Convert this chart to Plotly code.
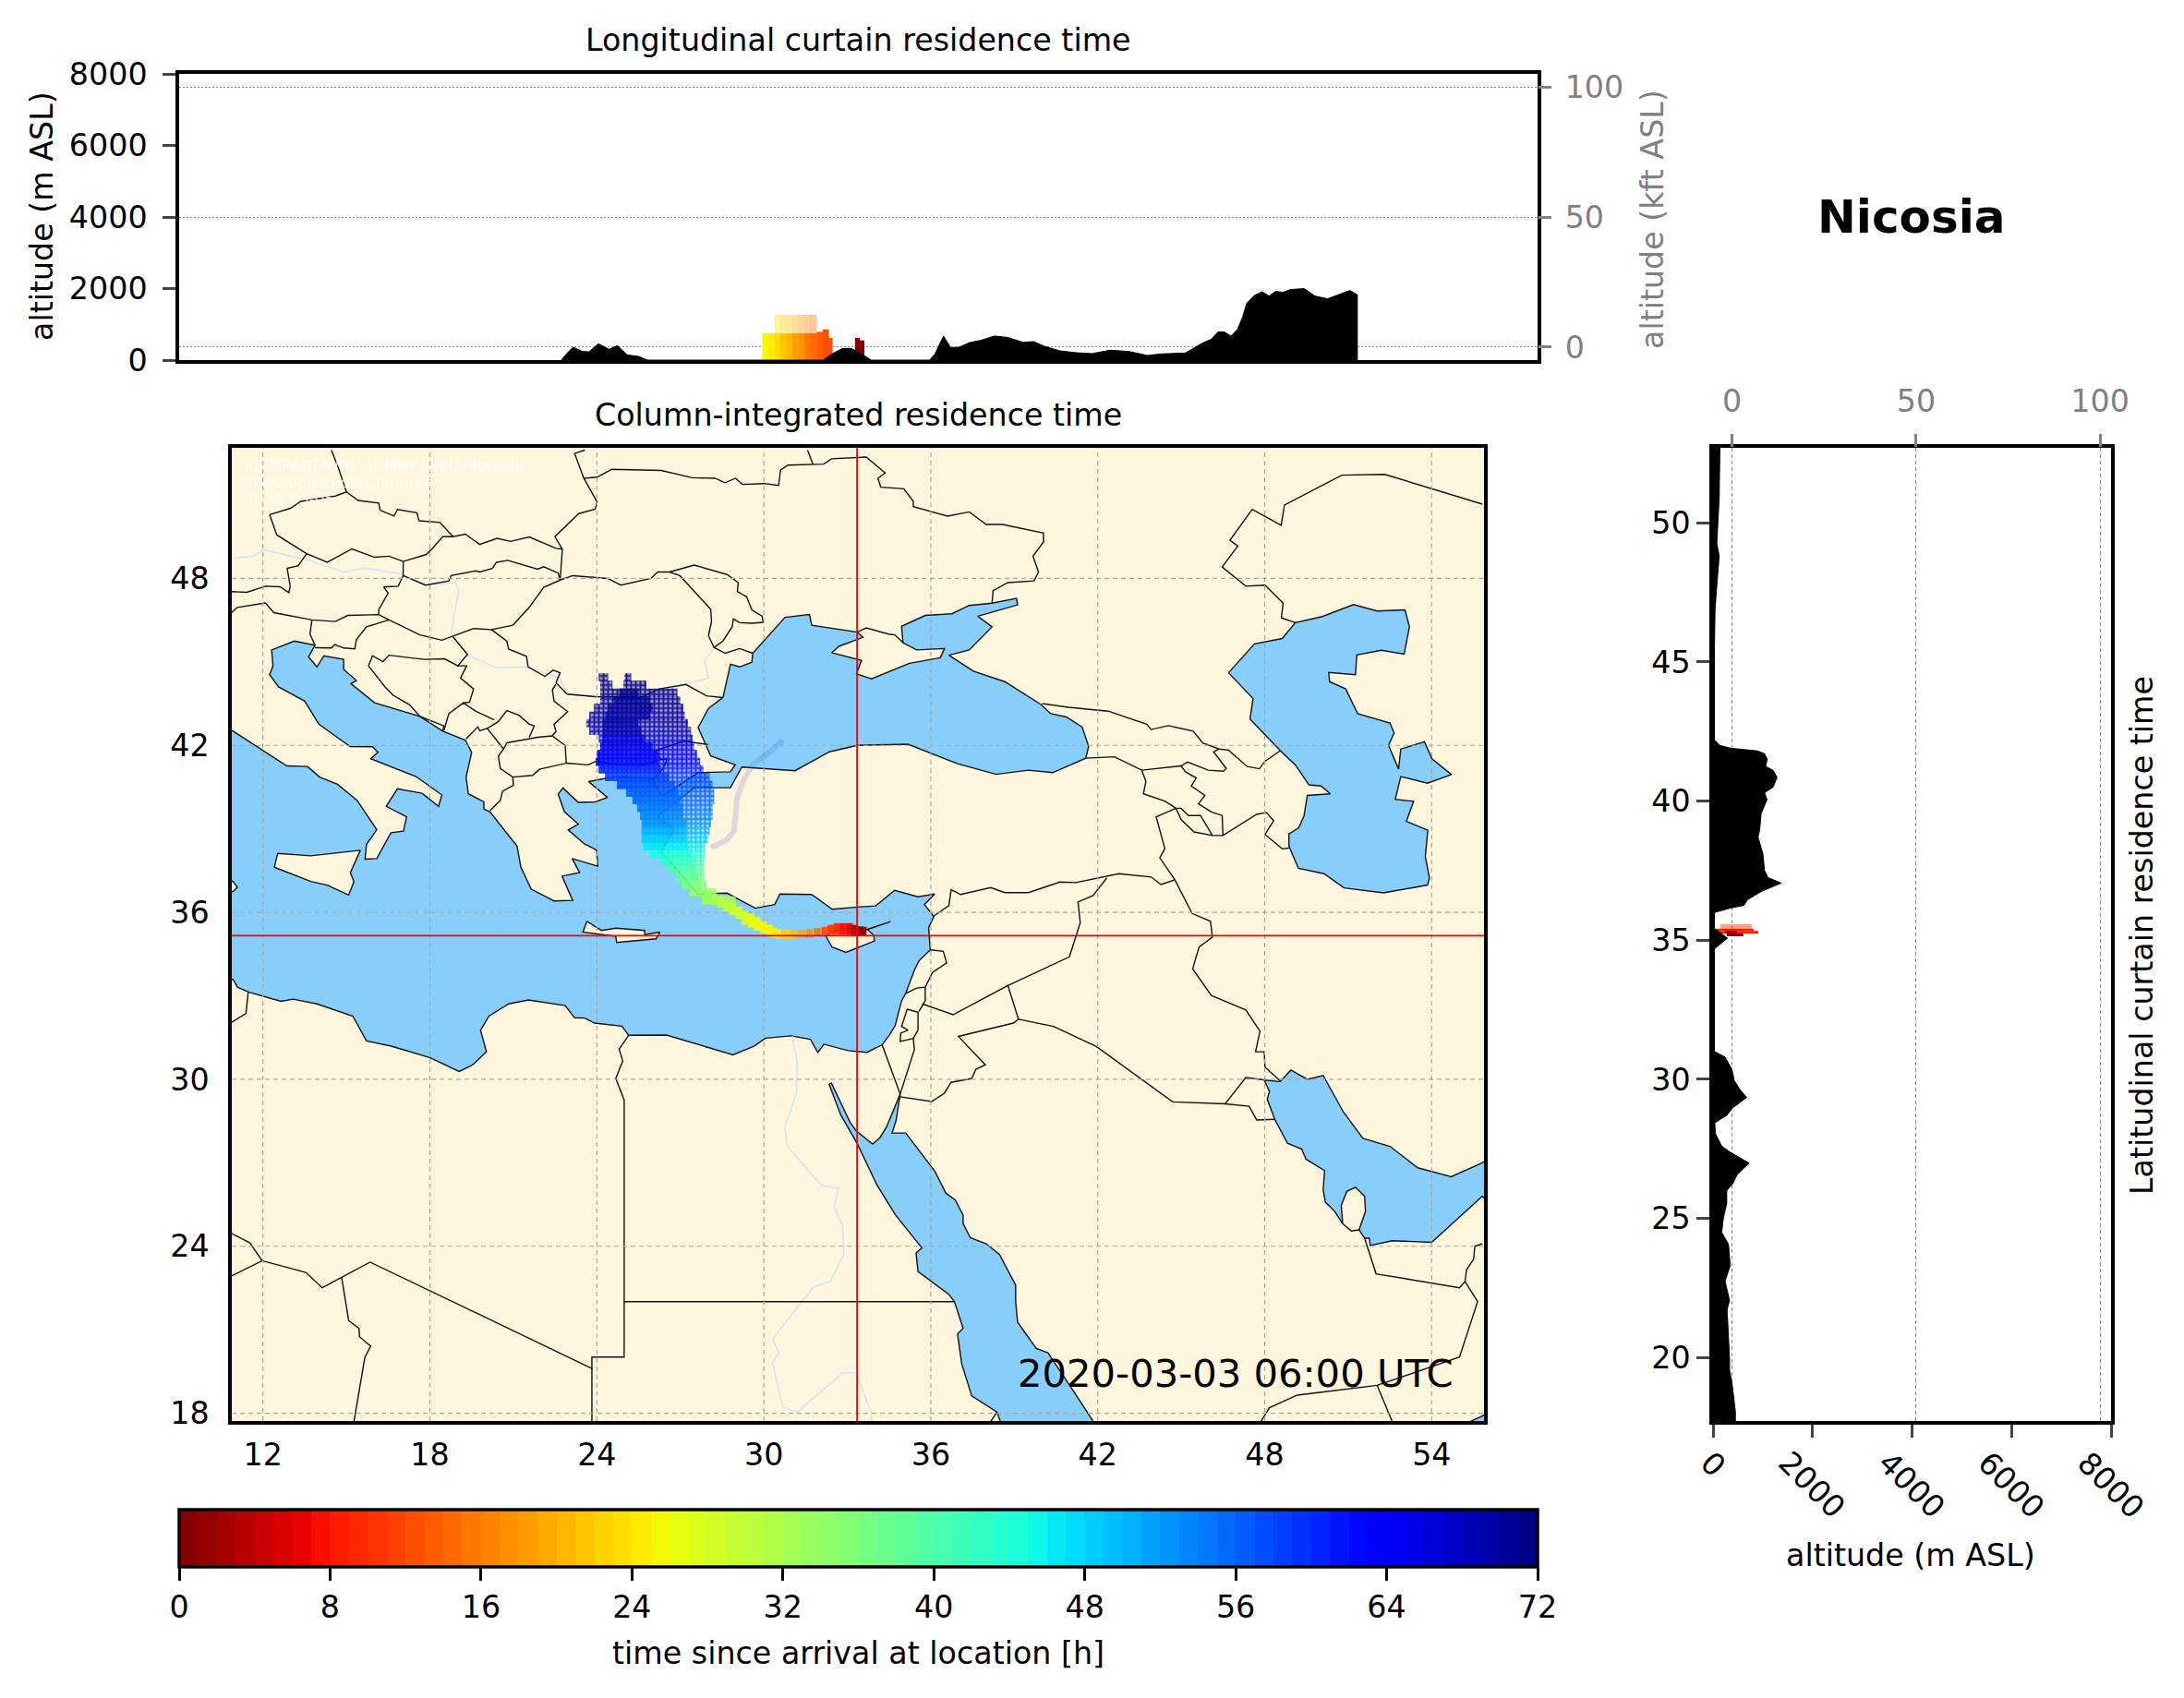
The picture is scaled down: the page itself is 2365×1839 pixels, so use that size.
import numpy as np
import plotly.graph_objects as go

W, H = 2365, 1839
# the page keeps its 8px body margin, so the figure is a little smaller and all positions shift by it
PAGE = 8
FW, FH = W - 2 * PAGE, H - 2 * PAGE
FONT = "DejaVu Sans"
LAND = "#FFF6DD"
SEA = "#87CEFA"

# ---- terrain along the curtains
lon_terrain = [23.54, 23.71, 23.93, 24.24, 24.45, 24.77, 25.12, 25.40, 25.72, 26.10, 26.39, 32.22, 32.50, 32.86,
               33.14, 33.45, 33.81, 35.74, 35.92, 36.2, 36.44, 36.72, 37.07, 37.43, 37.88, 38.31, 38.83, 39.19,
               39.54, 40.06, 40.59, 41.12, 41.72, 42.35, 42.95, 43.40, 44.21, 44.53, 44.81, 45.06, 45.30, 45.51,
               45.72, 45.94, 46.11, 46.25, 46.50, 46.75, 46.99, 47.20, 47.45, 47.69, 48.15, 48.50, 48.92, 49.28,
               49.66, 49.91, 49.91]
alt_lon_terrain = [0, 172, 362, 241, 232, 456, 301, 405, 146, 103, 0, 0, 172, 327,
                   327, 189, 0, 0, 172, 672, 344, 362, 491, 551, 672, 637, 499, 517,
                   387, 258, 207, 181, 276, 241, 129, 172, 198, 344, 491, 577, 792, 783,
                   672, 861, 1205, 1593, 1808, 1911, 1791, 1920, 1894, 1972, 1998, 1791, 1713, 1825,
                   1946, 1825, 0]
lat_terrain = [52.71, 51.48, 50.88, 49.27, 48.8, 47.9, 46.9, 45.4, 43.0, 42.2, 42.0, 41.9, 41.8, 41.7, 41.5, 41.25,
               41.1, 40.85, 40.5, 40.3, 40.05, 39.55, 39.0, 38.7, 38.1, 37.5, 37.25, 37.05, 36.75, 36.45, 36.25,
               36.15, 36.0, 35.9, 35.42, 35.07, 34.7, 34.6, 31.0, 30.8, 30.35, 29.95, 29.6, 29.35, 28.95, 28.7,
               28.44, 28.05, 27.6, 27.38, 26.99, 26.57, 26.26, 26.0, 25.55, 25.0, 24.5, 24.07, 23.3, 22.75, 22.05,
               21.73, 19.94, 19.55, 19.0, 18.07, 17.72]
alt_lat_terrain = [138, 138, 124, 76, 124, 83, 41, 28, 35, 28, 138, 345, 898, 1036, 1091, 1057,
                   1209, 1285, 1209, 1036, 1085, 967, 939, 905, 1002, 1036, 1105, 1368, 967, 691, 622,
                   345, 35, 28, 28, 290, 35, 28, 28, 242, 380, 428, 553, 677, 380, 276,
                   35, 48, 173, 345, 725, 484, 400, 276, 276, 207, 173, 311, 345, 242, 332,
                   283, 332, 332, 387, 449, 449]

# ---- residence time in the curtains
curtain_lon = [30.3, 30.5, 30.7, 30.9, 31.1, 31.3, 31.5, 31.7, 31.9, 32.1, 32.3, 32.42]
curtain_top = [750, 750, 750, 750, 750, 750, 750, 750, 750, 790, 860, 620]
curtain_time = [25, 24, 23, 21, 20, 18, 17, 15, 14, 13, 12, 12]
curtain_high_lon = [30.7, 30.9, 31.1, 31.3, 31.5, 31.7, 31.9]
curtain_high_time = [23, 22, 21, 20, 18, 16, 15]
curtain_near_lon = [33.35, 33.5]
curtain_near_base = [200, 130]
curtain_near_top = [620, 550]
curtain_near_time = [0.5, 0.5]
side_lat = [35.495, 35.37, 35.285, 35.285, 35.19]
side_west = [152, 55, 83, 240, 276]
side_east = [774, 815, 912, 480, 608]
side_height = [0.17, 0.08, 0.09, 0.09, 0.1]
side_time = [9, 8, 8, 1, 1]
side_alpha = [0.45, 1, 1, 1, 1]

# ---- column-integrated plume: north part, one row per latitude
plume_lat = [44.45, 44.45, 44.18, 44.18, 43.9, 43.62, 43.35, 43.07, 42.8, 42.52, 42.24, 41.97, 41.69, 41.41, 41.14,
             40.86, 40.58, 40.3, 40.03, 39.75, 39.47, 39.2, 38.92, 38.64, 38.37, 38.09, 37.82, 37.54, 37.27, 36.99,
             36.71, 36.43]
plume_west = [24.07, 25.0, 24.12, 24.95, 24.12, 24.12, 23.9, 23.73, 23.62, 23.73, 24.07, 24.12, 24.01, 23.96, 24.07,
              24.29, 24.73, 25.06, 25.28, 25.45, 25.56, 25.61, 25.61, 25.61, 25.67, 25.89, 26.28, 26.55, 26.83, 27.05,
              27.33, 27.77]
plume_east = [24.4, 25.23, 24.56, 25.78, 26.89, 27.0, 27.11, 27.16, 27.27, 27.38, 27.44, 27.49, 27.6, 27.71, 27.83,
              28.05, 28.16, 28.21, 28.21, 28.16, 28.16, 28.1, 28.05, 27.99, 27.88, 27.88, 27.86, 27.86, 27.88, 27.94,
              28.27, 28.99]
plume_time = [71, 71, 71, 71, 71, 70, 70, 69, 69, 68, 66, 65, 63, 62, 60,
              58, 57, 56, 55, 54, 53, 52, 50, 48, 46, 44, 42, 40, 38, 36,
              34, 32]
core_lat = [43.9, 43.62, 43.35, 43.07, 42.8, 42.52, 42.24, 41.97, 41.69, 41.41, 41.14, 40.86, 40.58, 40.3, 40.03, 39.75,
            39.47, 39.2, 38.92, 38.64, 38.37, 38.09, 37.82, 37.54, 37.27, 36.99, 36.71, 36.43]
core_east = [25.5, 25.9, 26.0, 25.9, 25.5, 25.6, 25.7, 26.0, 26.2, 26.2, 26.3, 26.6, 26.8, 26.9, 27.0, 27.1,
             27.1, 27.2, 27.2, 27.2, 27.3, 27.4, 27.5, 27.55, 27.65, 27.75, 28.0, 28.9]
core_west = [24.8, 24.6, 24.4, 24.3, 24.2, 24.2, 24.2, 24.12, 24.01, 23.96, 24.07, 24.29, 24.73, 25.06, 25.28, 25.45,
             25.56, 25.61, 25.61, 25.61, 25.67, 25.89, 26.28, 26.55, 26.83, 27.05, 27.33, 27.77]
core_time = [71, 70, 70, 69, 69, 68, 66, 65, 63, 62, 60, 58, 57, 56, 55, 54,
             53, 52, 50, 48, 46, 44, 42, 40, 38, 36, 34, 32]
# tail towards Cyprus, one column per longitude
tail_lon = [27.99, 28.21, 28.43, 28.65, 28.88, 29.10, 29.32, 29.54, 29.76, 29.98, 30.2, 30.37, 30.53, 30.81, 31.09,
            31.37, 31.64, 31.92, 32.19, 32.41, 32.63, 32.85, 33.08, 33.25, 33.35, 33.47, 33.57]
tail_south = [36.33, 36.25, 36.16, 36.02, 35.89, 35.76, 35.55, 35.45, 35.33, 35.25, 35.17, 35.1, 35.06, 35.05, 35.06,
              35.07, 35.08, 35.14, 35.19, 35.19, 35.19, 35.19, 35.19, 35.17, 35.15, 35.15, 35.15]
tail_north = [36.77, 36.68, 36.6, 36.46, 36.33, 36.2, 36.05, 35.95, 35.83, 35.68, 35.55, 35.45, 35.39, 35.38, 35.37,
              35.38, 35.39, 35.44, 35.48, 35.55, 35.61, 35.61, 35.61, 35.55, 35.5, 35.49, 35.48]
tail_time = [33, 32, 31, 30, 29, 28, 27, 26.5, 26, 25.5, 25, 24.5, 24, 22, 21,
             19, 17, 15, 12, 10, 9, 7, 6, 4, 2, 1, 0.5]
filament_lon = [30.7, 30.2, 29.65, 29.32, 29.04, 28.96, 28.93, 28.65, 28.1]
filament_lat = [42.19, 41.75, 41.36, 40.86, 40.14, 39.37, 38.93, 38.59, 38.32]
station_lon = 33.35
station_lat = 35.16

# ---- ticks
lon_ticks = [12, 18, 24, 30, 36, 42, 48, 54]
lat_ticks = [18, 24, 30, 36, 42, 48]
side_lat_ticks = [20, 25, 30, 35, 40, 45, 50]
alt_ticks = [0, 2000, 4000, 6000, 8000]
kft_ticks = [0, 50, 100]
time_ticks = [0, 8, 16, 24, 32, 40, 48, 56, 64, 72]

# ---- coast polygons, (lon, lat)
sea_med = [(10.93, 33.59), (11.08, 33.31), (11.5, 33.13), (12.65, 32.80), (13.08, 32.88), (13.94, 32.71), (15.23, 32.27),
           (15.72, 31.38), (16.61, 31.19), (17.99, 30.78), (19.05, 30.28), (19.54, 30.52), (20.03, 30.99), (19.82, 31.76),
           (20.12, 32.27), (20.83, 32.71), (21.54, 32.85), (22.86, 32.65), (23.2, 32.21), (23.57, 32.2), (23.91, 32.02),
           (24.9, 31.91), (25.14, 31.58), (26.5, 31.59), (28.89, 30.88), (29.64, 31.19), (30.06, 31.48), (30.98, 31.56),
           (31.67, 31.44), (31.94, 30.96), (32.16, 31.26), (33.02, 31.03), (33.71, 30.97), (34.25, 31.24), (34.52, 31.6),
           (34.72, 31.93), (34.95, 32.82), (35.1, 33.09), (35.41, 33.92), (35.57, 34.25), (35.98, 34.65), (35.92, 35.45),
           (36.11, 35.84), (35.77, 36.28), (36.14, 36.66), (35.54, 36.56), (34.7, 36.79), (34.02, 36.23), (33.36, 36.19),
           (32.46, 36.11), (31.72, 36.64), (30.58, 36.66), (30.39, 36.28), (29.69, 36.15), (28.68, 36.69), (27.64, 36.66),
           (26.31, 38.19), (26.76, 38.97), (26.19, 39.46), (27.5, 40.48), (28.8, 40.48), (29.21, 41.22), (31.12, 41.09),
           (32.36, 41.77), (33.36, 42.0), (35.18, 42.04), (36.96, 41.34), (38.35, 40.96), (39.51, 41.11), (40.38, 41.02),
           (41.57, 41.54), (41.67, 41.97), (41.44, 42.66), (40.87, 43.02), (40.31, 43.14), (39.97, 43.46), (38.66, 44.29),
           (37.53, 44.67), (36.65, 45.24), (37.38, 45.43), (38.2, 46.26), (37.69, 46.64), (39.12, 47.05), (39.08, 47.28),
           (38.2, 47.11), (37.38, 47.03), (36.76, 46.73), (35.8, 46.67), (34.95, 46.28), (35.0, 45.69), (35.49, 45.43),
           (36.49, 45.48), (36.34, 45.15), (35.23, 44.95), (33.87, 44.39), (33.33, 44.57), (33.51, 45.05), (32.44, 45.33),
           (32.7, 45.56), (33.56, 45.88), (33.36, 46.07), (31.72, 46.32), (31.64, 46.7), (30.76, 46.6), (29.6, 45.31),
           (29.57, 44.99), (29.13, 44.82), (28.8, 44.92), (28.53, 43.72), (28.01, 43.33), (27.64, 42.64), (28.09, 41.62),
           (28.97, 41.3), (28.8, 41.05), (27.64, 41.02), (26.34, 40.17), (26.0, 40.8), (24.71, 40.89), (23.7, 40.7),
           (24.38, 40.13), (23.94, 39.97), (23.33, 39.95), (22.78, 40.47), (22.61, 40.25), (22.83, 39.62), (23.33, 39.17),
           (22.97, 38.96), (23.55, 38.46), (23.99, 38.24), (24.03, 37.66), (23.11, 37.93), (23.38, 37.43), (22.75, 37.3),
           (23.13, 36.43), (22.46, 36.41), (21.64, 36.83), (21.27, 37.62), (21.13, 38.38), (20.16, 39.61), (19.94, 39.71),
           (19.94, 39.97), (19.38, 40.26), (19.3, 40.86), (19.5, 41.75), (19.27, 42.19), (18.46, 42.51), (17.64, 43.04),
           (16.01, 43.53), (15.16, 44.22), (15.36, 44.33), (14.9, 44.73), (14.9, 45.09), (14.19, 45.22), (13.94, 44.82),
           (13.64, 45.18), (13.87, 45.6), (13.13, 45.75), (12.31, 45.43), (12.36, 44.86), (12.24, 44.54), (12.56, 44.1),
           (13.5, 43.59), (14.01, 42.76), (15.13, 41.96), (15.94, 41.95), (16.13, 41.75), (15.87, 41.52), (17.5, 40.88),
           (18.43, 40.22), (18.31, 39.81), (17.72, 40.28), (16.83, 40.44), (16.43, 39.81), (17.16, 39.43), (17.05, 38.92),
           (16.6, 38.86), (16.09, 37.93), (15.67, 37.91), (15.72, 38.44), (16.09, 38.97), (15.38, 40.03), (14.68, 40.6),
           (14.04, 40.86), (13.6, 41.24), (12.86, 41.26), (11.94, 41.87), (10.93, 42.51), (9.0, 43.0), (9.0, 33.6),
           (10.93, 33.59)]
sea_red = [(32.34, 29.83), (32.43, 29.86), (33.1, 28.45), (33.32, 28.15), (33.91, 27.67), (34.17, 27.9), (34.41, 28.29),
           (34.9, 29.47), (34.75, 28.51), (34.61, 28.07), (35.1, 28.07), (36.15, 26.69), (36.54, 25.91), (36.88, 25.66),
           (37.16, 25.12), (37.16, 24.81), (37.42, 24.31), (37.99, 24.09), (38.47, 23.7), (39.05, 22.6), (39.05, 21.99),
           (39.12, 21.27), (39.79, 20.33), (40.21, 20.17), (41.21, 18.67), (41.86, 17.7), (42.1, 17.3), (38.6, 17.3),
           (38.5, 17.7), (38.38, 18.04), (37.47, 18.62), (37.11, 19.78), (36.96, 20.85), (37.16, 21.05), (36.85, 22.01),
           (36.65, 22.27), (35.54, 23.09), (35.47, 23.76), (35.68, 23.94), (34.72, 25.14), (34.07, 26.19), (33.36, 27.68),
           (32.76, 28.73), (32.34, 29.83)]
sea_gulf = [(47.98, 29.97), (48.56, 29.92), (48.94, 30.33), (49.53, 30.0), (50.1, 30.14), (50.83, 28.82), (51.53, 27.88),
            (52.5, 27.59), (53.5, 26.82), (54.7, 26.5), (55.82, 27.0), (56.3, 27.3), (56.3, 25.2), (55.82, 25.8),
            (54.0, 24.14), (52.58, 24.2), (51.79, 24.03), (51.76, 24.29), (51.59, 24.29), (51.39, 24.59), (51.62, 25.25),
            (51.59, 25.8), (51.26, 26.12), (50.95, 25.97), (50.75, 25.47), (50.8, 24.81), (50.52, 25.25), (50.18, 25.58),
            (50.1, 26.02), (50.15, 26.72), (49.48, 27.13), (49.33, 27.49), (48.82, 27.7), (48.37, 28.54), (48.09, 29.28),
            (48.17, 29.56), (47.98, 29.97)]
sea_arabian = [(55.44, 17.73), (55.82, 17.9), (56.3, 18.2), (56.3, 17.3), (55.2, 17.3), (55.44, 17.73)]
sea_caspian = [(46.7, 44.61), (47.63, 45.65), (48.63, 45.84), (49.1, 46.41), (50.07, 46.63), (51.19, 47.06), (52.04, 46.83),
               (53.04, 46.87), (53.2, 46.26), (53.01, 45.28), (52.19, 45.42), (51.31, 45.25), (51.26, 44.54), (50.3, 44.62),
               (50.33, 44.29), (50.91, 44.03), (51.34, 43.14), (52.5, 42.8), (52.65, 42.45), (52.45, 42.0), (52.81, 41.15),
               (52.89, 41.87), (53.74, 42.13), (54.01, 41.52), (54.71, 40.95), (53.85, 40.64), (52.89, 40.88), (52.69, 40.06),
               (53.35, 39.99), (53.09, 39.27), (53.86, 38.95), (53.77, 38.0), (53.92, 37.23), (53.85, 36.98), (52.27, 36.7),
               (50.85, 36.88), (50.13, 37.39), (49.21, 37.58), (48.87, 38.38), (48.87, 38.82), (49.22, 39.04), (49.41, 39.46),
               (49.53, 40.2), (50.36, 40.26), (50.02, 40.54), (49.59, 40.58), (49.1, 41.3), (48.56, 41.81), (47.47, 42.95),
               (47.58, 43.68), (46.7, 44.61)]
isle_sicily = [(12.53, 38.12), (13.72, 38.03), (15.5, 38.23), (15.14, 37.42), (15.27, 37.11), (15.08, 36.62), (14.31, 36.98),
               (13.72, 37.11), (12.41, 37.62), (12.53, 38.12)]
isle_crete = [(23.64, 35.68), (23.5, 35.29), (24.68, 35.14), (24.71, 34.92), (26.13, 35.05), (26.27, 35.29), (25.72, 35.2),
              (25.72, 35.35), (24.68, 35.43), (24.16, 35.35), (23.64, 35.68)]
isle_cyprus = [(32.23, 35.14), (32.45, 34.75), (32.95, 34.56), (33.98, 34.97), (33.94, 35.19), (33.72, 35.38), (34.55, 35.67),
               (33.6, 35.35), (33.11, 35.42), (32.4, 35.3), (32.23, 35.14)]
isle_tunis = [(10.7, 37.2), (10.93, 37.1), (11.08, 36.9), (10.93, 36.75), (10.7, 36.7), (10.7, 37.2)]

# ---- land borders
borders = [
    [(14.46, 52.61), (14.7, 52.0), (15.0, 51.11)],
    [(12.24, 50.29), (12.99, 50.52), (13.36, 50.77), (14.6, 50.96), (15.0, 51.11), (15.42, 50.8), (16.16, 50.71), (16.21, 50.45),
     (16.71, 50.24), (16.83, 50.48), (17.53, 50.36), (17.61, 50.07), (18.36, 50.01), (18.83, 49.5), (19.27, 49.59), (19.79, 49.22),
     (20.41, 49.44), (20.9, 49.33), (21.57, 49.49), (22.53, 49.08), (22.76, 49.05), (22.49, 49.5), (23.35, 50.33), (23.94, 50.49),
     (24.01, 50.75), (23.53, 51.6), (23.2, 52.49), (23.57, 52.61)],
    [(12.24, 50.29), (12.5, 49.56), (13.57, 48.89), (14.31, 48.58), (15.2, 49.06), (16.01, 48.76), (16.53, 48.8), (17.04, 48.61),
     (17.87, 48.86), (18.09, 49.08), (18.46, 49.5), (18.83, 49.5)],
    [(23.53, 51.6), (24.01, 51.64), (24.53, 51.92), (26.31, 51.88), (27.42, 51.62), (28.24, 51.6), (28.61, 51.44), (28.98, 51.6),
     (29.23, 51.38), (30.01, 51.41), (30.53, 51.34), (30.6, 51.89), (30.86, 52.07), (32.16, 52.11), (32.43, 52.3), (33.68, 52.36),
     (34.36, 51.79), (34.1, 51.6), (34.2, 51.28), (35.03, 51.22), (35.37, 50.77), (35.37, 50.58), (36.6, 50.24), (37.38, 50.39),
     (37.99, 49.94), (38.58, 49.94), (40.05, 49.63), (40.05, 49.31), (39.67, 48.8), (39.87, 48.23), (39.71, 47.91), (38.77, 47.85),
     (38.24, 47.56), (38.2, 47.11)],
    [(31.57, 52.61), (31.76, 52.11)],
    [(55.82, 50.67), (52.31, 51.74), (50.77, 51.71), (48.71, 50.64), (48.59, 49.91), (47.55, 50.48), (46.75, 49.37), (47.03, 49.16),
     (46.47, 48.41), (47.32, 47.72), (48.01, 47.76), (48.66, 47.11), (48.6, 46.58), (49.1, 46.41)],
    [(33.36, 46.07), (33.68, 46.22), (34.48, 46.0), (34.71, 45.97), (35.0, 45.69)],
    [(40.0, 43.5), (40.95, 43.37), (42.37, 43.23), (43.76, 42.76), (43.92, 42.57), (44.54, 42.71), (45.43, 42.51), (45.77, 42.09),
     (46.36, 41.87), (46.7, 41.83), (47.37, 41.24), (47.81, 41.16), (48.01, 41.43), (48.56, 41.81)],
    [(41.57, 41.54), (42.6, 41.59), (43.58, 41.11), (44.99, 41.26), (45.23, 41.4), (45.97, 41.11), (46.51, 41.07), (46.62, 41.17),
     (46.16, 41.77), (46.36, 41.87)],
    [(43.58, 41.11), (43.73, 40.7), (43.64, 40.26), (44.41, 40.0), (44.81, 39.74), (45.0, 39.33), (45.46, 38.89), (46.12, 38.76),
     (46.5, 38.76), (47.71, 39.52), (48.06, 39.59), (48.32, 39.29), (48.01, 38.8), (48.63, 38.28), (48.87, 38.31)],
    [(44.99, 41.26), (45.15, 41.05), (45.54, 40.83), (45.36, 40.54), (45.85, 40.2), (45.62, 39.9), (46.08, 39.61), (46.47, 39.48),
     (46.5, 38.76)],
    [(44.81, 39.74), (44.99, 39.74), (45.26, 39.48), (45.69, 39.48), (46.12, 38.76)],
    [(44.81, 39.74), (44.1, 39.43), (44.41, 38.29), (44.23, 37.96), (44.77, 37.17), (45.39, 35.96), (46.05, 35.68), (46.12, 35.11),
     (45.64, 34.75), (45.41, 33.97), (46.08, 33.01), (47.32, 32.49), (47.83, 31.73), (47.67, 30.99), (47.98, 30.99), (48.01, 30.44),
     (48.56, 29.94)],
    [(36.11, 35.87), (36.65, 36.24), (36.73, 36.81), (37.07, 36.64), (38.15, 36.89), (38.66, 36.71), (39.51, 36.71), (40.64, 37.09),
     (41.21, 37.07), (42.76, 37.39), (43.92, 37.27), (44.27, 37.0), (44.77, 37.17)],
    [(42.32, 37.23), (41.83, 36.6), (41.29, 36.37), (41.37, 35.62), (40.98, 34.4), (38.77, 33.37)],
    [(35.98, 34.65), (36.45, 34.6), (36.57, 34.18), (36.06, 33.84), (35.8, 33.31), (35.49, 33.28), (35.1, 33.09)],
    [(35.8, 33.31), (35.8, 32.82), (35.57, 32.43)],
    [(35.15, 32.52), (35.54, 32.41), (35.54, 31.77), (35.37, 31.47), (34.9, 31.36), (34.92, 31.66), (35.18, 31.77), (34.95, 31.9),
     (35.15, 32.52)],
    [(35.37, 31.47), (35.41, 31.07), (34.9, 29.47)],
    [(35.69, 32.71), (36.8, 32.32), (38.77, 33.37), (39.15, 32.16), (38.97, 32.02), (36.99, 31.54), (37.96, 30.52), (37.62, 30.36),
     (37.47, 30.03), (36.73, 29.89), (36.49, 29.5), (36.03, 29.2), (34.9, 29.37)],
    [(39.15, 32.16), (40.41, 31.9), (41.95, 31.18), (44.69, 29.19), (46.58, 29.12), (47.44, 29.03), (47.71, 28.54), (48.37, 28.56)],
    [(46.58, 29.12), (47.32, 30.06), (47.98, 29.98)],
    [(34.25, 31.24), (34.9, 29.47)],
    [(51.59, 24.29), (52.0, 23.01), (55.0, 22.51), (55.2, 22.73), (55.25, 23.15), (55.51, 23.54), (55.55, 24.0), (55.82, 24.09)],
    [(55.2, 22.73), (55.65, 22.01), (55.0, 20.02), (52.04, 19.0), (49.17, 18.65), (48.17, 18.2), (47.86, 17.7)],
    [(52.04, 19.0), (52.58, 17.7)],
    [(38.15, 17.7), (38.38, 18.04)],
    [(51.39, 24.59), (51.11, 24.55), (50.8, 24.81)],
    [(25.14, 31.58), (24.8, 31.08), (24.93, 30.66), (24.68, 30.03), (24.98, 29.26), (24.98, 20.02), (23.82, 20.02), (23.82, 19.61),
     (15.85, 23.43), (14.83, 22.87), (14.13, 22.51), (13.54, 23.06), (11.97, 23.48), (10.8, 22.9)],
    [(11.97, 23.48), (11.53, 24.12), (10.8, 24.5)],
    [(24.98, 22.01), (36.87, 22.01)],
    [(14.83, 22.87), (15.08, 21.33), (15.45, 21.05), (15.47, 20.75), (15.87, 20.41), (15.66, 20.0), (15.27, 17.7)],
    [(23.82, 19.61), (23.82, 17.7)],
    [(11.47, 33.13), (11.39, 32.37), (10.8, 32.0)],
    [(10.8, 47.53), (11.42, 47.5), (12.09, 47.72), (12.61, 47.7), (12.93, 47.49), (12.98, 47.72), (12.87, 48.36), (13.27, 48.46),
     (13.57, 48.89)],
    [(10.8, 46.7), (11.08, 46.96), (12.09, 47.12), (12.39, 46.77), (13.76, 46.51), (14.6, 46.45), (15.05, 46.67), (16.16, 46.7),
     (16.53, 46.51)],
    [(17.04, 48.61), (17.04, 48.1), (16.86, 47.72), (16.34, 47.69), (16.5, 47.47), (16.16, 46.87), (16.16, 46.7)],
    [(17.04, 48.1), (17.84, 47.76), (18.68, 47.91), (18.76, 48.1), (19.64, 48.27), (19.79, 48.23), (20.24, 48.36), (20.39, 48.58),
     (20.8, 48.65), (21.87, 48.33), (22.09, 48.42), (22.61, 48.19), (22.68, 47.94), (22.76, 49.05)],
    [(22.68, 47.94), (22.09, 47.68), (21.57, 46.96), (20.98, 46.32), (20.21, 46.16), (19.57, 46.2), (18.43, 45.78), (17.64, 45.97),
     (16.53, 46.51)],
    [(22.68, 47.94), (23.13, 48.1), (24.39, 48.0), (24.86, 47.76), (25.94, 48.0), (26.19, 48.23), (26.61, 48.23), (26.98, 48.1),
     (28.09, 46.89), (28.12, 46.45), (28.01, 45.94), (28.21, 45.52), (28.61, 45.31), (29.13, 45.48), (29.6, 45.31)],
    [(26.61, 48.23), (27.5, 48.48), (28.68, 48.14), (29.08, 47.85), (29.05, 47.53), (29.38, 47.34), (29.57, 46.87), (29.94, 46.64),
     (29.97, 46.42), (29.57, 46.39), (29.13, 46.41), (28.91, 46.54), (28.86, 46.26), (28.53, 45.75), (28.21, 45.52)],
    [(20.21, 46.16), (20.76, 45.75), (20.83, 45.46), (21.47, 45.2), (21.53, 44.82), (22.13, 44.48), (22.43, 44.7), (22.68, 44.61),
     (22.53, 44.25), (22.93, 43.84), (23.94, 43.75), (25.57, 43.72), (26.24, 44.03), (27.2, 44.19), (27.94, 43.78), (28.53, 43.72)],
    [(22.53, 44.19), (22.4, 44.0), (22.46, 43.59), (22.95, 43.21), (22.46, 42.76), (22.53, 42.5), (22.39, 42.34)],
    [(20.76, 42.09), (21.87, 42.29), (22.39, 42.34), (22.86, 42.0), (22.9, 41.36), (21.94, 41.14), (21.69, 40.92), (20.98, 40.86),
     (20.53, 41.17), (20.46, 41.62), (20.65, 41.87), (20.76, 42.09)],
    [(22.9, 41.36), (23.69, 41.3), (23.97, 41.43), (24.83, 41.3), (25.57, 41.28), (26.31, 41.49), (26.09, 41.81), (27.13, 42.15),
     (28.01, 42.03)],
    [(26.31, 41.49), (26.53, 41.52), (26.38, 41.17), (26.04, 40.79)],
    [(20.98, 40.86), (21.0, 40.56), (20.61, 40.35), (20.53, 40.03), (20.16, 39.65)],
    [(20.65, 41.87), (20.06, 42.61), (20.46, 42.86), (20.76, 43.25), (21.2, 43.08), (21.57, 42.76), (21.75, 42.7), (21.57, 42.29)],
    [(18.5, 42.53), (18.68, 43.14), (19.2, 43.53), (19.64, 43.23), (20.31, 42.92)],
    [(19.3, 42.23), (19.72, 42.66), (19.79, 42.53), (20.06, 42.61)],
    [(15.79, 44.86), (15.94, 45.22), (16.31, 45.01), (16.53, 45.24), (17.79, 45.09), (18.53, 45.11), (19.0, 44.86), (19.35, 45.27),
     (18.83, 45.9)],
    [(19.0, 44.86), (19.32, 44.86), (19.1, 44.42), (19.57, 44.03), (19.42, 43.55), (19.2, 43.53)],
    [(15.79, 44.86), (16.39, 44.1), (16.68, 43.8), (17.27, 43.46), (17.64, 43.04), (18.5, 42.7), (18.46, 42.51)],
    [(13.76, 46.51), (13.69, 46.0), (13.87, 45.6)],
    [(13.87, 45.51), (14.46, 45.5), (14.58, 45.62), (14.9, 45.5), (15.3, 45.47), (15.36, 45.81), (15.72, 46.26), (16.53, 46.51)],
]
# ---- rivers
river_danube = [(10.8, 48.71), (11.64, 48.8), (12.01, 49.03), (13.57, 48.67), (14.9, 48.23), (15.64, 48.38), (16.9, 48.17),
                (17.87, 47.76), (18.9, 47.85), (19.04, 47.59), (18.9, 46.83), (18.76, 46.0), (19.35, 45.24), (20.39, 44.8),
                (21.5, 44.82), (22.68, 44.42), (22.93, 43.84), (24.09, 43.75), (25.57, 43.72), (27.2, 44.19), (28.01, 44.42),
                (27.87, 45.05), (28.21, 45.5)]
river_nile = [(31.02, 31.55), (31.2, 30.61), (31.17, 29.5), (30.76, 28.29), (30.83, 27.62), (32.06, 26.19), (32.68, 26.08),
              (32.53, 25.41), (32.83, 24.75), (32.87, 23.7), (32.39, 22.74), (31.79, 22.54), (30.31, 20.66), (30.55, 20.17),
              (30.31, 19.83), (30.68, 18.23), (31.2, 18.04), (32.83, 19.45), (33.32, 19.45), (33.87, 18.0), (33.87, 17.6)]

LON_RANGE = [10.88, 55.88]
LAT_RANGE = [17.72, 52.71]


def jet_r(t):
    # matplotlib's jet, reversed
    v = 1 - t
    r = np.interp(v, [0, 0.35, 0.66, 0.89, 1], [0, 0, 1, 1, 0.5])
    g = np.interp(v, [0, 0.125, 0.375, 0.64, 0.91, 1], [0, 0, 1, 1, 0, 0])
    b = np.interp(v, [0, 0.11, 0.34, 0.65, 1], [0.5, 1, 1, 0, 0])
    return "rgb(%d,%d,%d)" % (r * 255, g * 255, b * 255)


# 72 flat steps, the bar in the picture is stepped
stepped = []
for i in range(72):
    c = jet_r((i + 0.5) / 72)
    stepped += [[i / 72, c], [(i + 1) / 72, c]]


def px_x(a, b):
    return [(a - PAGE) / FW, (b - PAGE) / FW]


def px_y(top, bottom):
    return [1 - (bottom - PAGE) / FH, 1 - (top - PAGE) / FH]


def unzip(poly):
    return [p[0] for p in poly], [p[1] for p in poly]


def joined(polys):
    xs, ys = [], []
    for poly in polys:
        a, b = unzip(poly)
        xs += a + [None]
        ys += b + [None]
    return xs, ys


fig = go.Figure()

# ---- map, main layer
for poly in [sea_med, sea_red, sea_gulf, sea_arabian, sea_caspian]:
    a, b = unzip(poly)
    fig.add_trace(go.Scatter(x=a, y=b, mode="lines", fill="toself", fillcolor=SEA,
                             line=dict(color="#111111", width=1.4), xaxis="x3", yaxis="y3", showlegend=False))
for poly in [isle_sicily, isle_crete, isle_cyprus, isle_tunis]:
    a, b = unzip(poly)
    fig.add_trace(go.Scatter(x=a, y=b, mode="lines", fill="toself", fillcolor=LAND,
                             line=dict(color="#111111", width=1.4), xaxis="x3", yaxis="y3", showlegend=False))
a, b = joined([river_danube, river_nile])
fig.add_trace(go.Scatter(x=a, y=b, mode="lines", line=dict(color="#CFE6F0", width=1.5), xaxis="x3", yaxis="y3",
                         showlegend=False))
a, b = joined(borders)
fig.add_trace(go.Scatter(x=a, y=b, mode="lines", line=dict(color="#111111", width=1.4), xaxis="x3", yaxis="y3",
                         showlegend=False))
# gridlines have to sit on top of the seas, so they are a trace and not axis grid
grid_x, grid_y = [], []
for v in lon_ticks:
    grid_x += [v, v, None]
    grid_y += [LAT_RANGE[0], LAT_RANGE[1], None]
for v in lat_ticks:
    grid_x += [LON_RANGE[0], LON_RANGE[1], None]
    grid_y += [v, v, None]
fig.add_trace(go.Scatter(x=grid_x, y=grid_y, mode="lines", line=dict(color="#A8A8A0", width=1.2, dash="5px,4px"),
                         xaxis="x3", yaxis="y3", showlegend=False))

# ---- map, plume in the overlay so that it lies over the seas
mesh = dict(shape="+", size=5, solidity=0.6, fillmode="replace")
fig.add_trace(go.Bar(y=plume_lat, x=[e - w for e, w in zip(plume_east, plume_west)], base=plume_west, orientation="h",
                     width=0.29, xaxis="x4", yaxis="y4", showlegend=False,
                     marker=dict(color=plume_time, coloraxis="coloraxis", line_width=0, opacity=0.35)))
fig.add_trace(go.Bar(y=plume_lat, x=[e - w for e, w in zip(plume_east, plume_west)], base=plume_west, orientation="h",
                     width=0.29, xaxis="x4", yaxis="y4", showlegend=False,
                     marker=dict(color=plume_time, coloraxis="coloraxis", line_width=0, opacity=0.85, pattern=mesh)))
fig.add_trace(go.Bar(y=core_lat, x=[e - w for e, w in zip(core_east, core_west)], base=core_west, orientation="h",
                     width=0.29, xaxis="x4", yaxis="y4", showlegend=False,
                     marker=dict(color=core_time, coloraxis="coloraxis", line_width=0, opacity=0.7)))
fig.add_trace(go.Bar(x=tail_lon, y=[n - s for n, s in zip(tail_north, tail_south)], base=tail_south, width=0.24,
                     xaxis="x4", yaxis="y4", showlegend=False,
                     marker=dict(color=tail_time, coloraxis="coloraxis", line_width=0, opacity=0.95)))
fig.add_trace(go.Scatter(x=filament_lon, y=filament_lat, mode="lines", xaxis="x4", yaxis="y4", showlegend=False,
                         line=dict(color="rgba(80,80,230,0.18)", width=6)))
fig.add_trace(go.Scatter(x=[LON_RANGE[0], LON_RANGE[1]], y=[station_lat, station_lat], mode="lines", xaxis="x4", yaxis="y4",
                         showlegend=False, line=dict(color="#FF0000", width=1.8)))
fig.add_trace(go.Scatter(x=[station_lon, station_lon], y=LAT_RANGE, mode="lines", xaxis="x4", yaxis="y4",
                         showlegend=False, line=dict(color="#FF0000", width=1.8)))

# ---- longitudinal curtain
fig.add_trace(go.Bar(x=curtain_lon, y=curtain_top, width=0.21, xaxis="x", yaxis="y", showlegend=False,
                     marker=dict(color=curtain_time, coloraxis="coloraxis", line_width=0)))
fig.add_trace(go.Bar(x=curtain_high_lon, y=[515] * len(curtain_high_lon), base=[750] * len(curtain_high_lon), width=0.21,
                     xaxis="x", yaxis="y", showlegend=False,
                     marker=dict(color=curtain_high_time, coloraxis="coloraxis", line_width=0, opacity=0.4)))
fig.add_trace(go.Bar(x=curtain_near_lon, y=[t - b for t, b in zip(curtain_near_top, curtain_near_base)], base=curtain_near_base,
                     width=0.16, xaxis="x", yaxis="y", showlegend=False,
                     marker=dict(color=curtain_near_time, coloraxis="coloraxis", line_width=0)))
fig.add_trace(go.Scatter(x=lon_terrain, y=alt_lon_terrain, mode="lines", fill="tozeroy", fillcolor="black",
                         line=dict(color="black", width=1), xaxis="x", yaxis="y", showlegend=False))
# an unseen trace keeps the kft axis of the top panel drawn
fig.add_trace(go.Scatter(x=[LON_RANGE[0]] * 3, y=kft_ticks, mode="markers", marker_opacity=0, hoverinfo="skip",
                         xaxis="x", yaxis="y2", showlegend=False))

# ---- latitudinal curtain
fig.add_trace(go.Bar(y=side_lat, x=[e - w for e, w in zip(side_east, side_west)], base=side_west, orientation="h", width=side_height,
                     xaxis="x5", yaxis="y5", showlegend=False,
                     marker=dict(color=side_time, coloraxis="coloraxis", line_width=0, opacity=side_alpha)))
fig.add_trace(go.Scatter(x=alt_lat_terrain, y=lat_terrain, mode="lines", fill="tozerox", fillcolor="black",
                         line=dict(color="black", width=1), xaxis="x5", yaxis="y5", showlegend=False))
fig.add_trace(go.Scatter(x=kft_ticks, y=[LAT_RANGE[0]] * 3, mode="markers", marker_opacity=0, hoverinfo="skip",
                         xaxis="x6", yaxis="y5", showlegend=False))

tick_font = dict(family=FONT, size=33.3, color="black")
gray_font = dict(family=FONT, size=33.3, color="gray")
frame = dict(showline=True, linecolor="black", linewidth=3.5, mirror=True, zeroline=False)

fig.update_layout(
    width=FW, height=FH, autosize=False, margin=dict(l=0, r=0, t=0, b=0, autoexpand=False),
    paper_bgcolor="white", plot_bgcolor="white", barmode="overlay", font=tick_font,
    coloraxis=dict(cmin=0, cmax=72, colorscale=stepped, colorbar=dict(
        orientation="h", x=(194 - PAGE) / FW, xanchor="left", xpad=0, y=1 - (1635 - PAGE) / FH, yanchor="top", ypad=0,
        lenmode="pixels", len=1471, thicknessmode="pixels", thickness=62,
        tickmode="array", tickvals=time_ticks, ticks="outside", ticklen=14, tickwidth=2.5, tickcolor="black",
        tickfont=tick_font, outlinecolor="black", outlinewidth=3.5)),
    # top panel
    xaxis=dict(frame, domain=px_x(194, 1665), range=LON_RANGE, anchor="y", showticklabels=False, ticks="", showgrid=False),
    yaxis=dict(frame, domain=px_y(80, 390), range=[0, 8000], anchor="x", tickvals=alt_ticks, ticks="outside", ticklen=14, tickwidth=3,
               showgrid=False, tickfont=tick_font, ticklabelstandoff=10),
    yaxis2=dict(domain=px_y(80, 390), range=[-5, 105], overlaying="y", side="right", anchor="x", tickvals=kft_ticks,
                ticks="outside", ticklen=14, tickwidth=3, tickcolor="gray", tickfont=gray_font, showline=False, zeroline=False,
                showgrid=True, gridcolor="#888888", griddash="2px,2px", gridwidth=1, ticklabelstandoff=8),
    # map
    xaxis3=dict(frame, domain=px_x(251, 1607), range=LON_RANGE, anchor="y3", tickvals=lon_ticks, ticks="outside", ticklen=4,
                tickcolor="rgba(0,0,0,0)", showgrid=False, tickfont=tick_font),
    yaxis3=dict(frame, domain=px_y(484.5, 1539), range=LAT_RANGE, anchor="x3", tickvals=lat_ticks, ticks="outside", ticklen=14,
                tickcolor="rgba(0,0,0,0)", showgrid=False, tickfont=tick_font),
    xaxis4=dict(domain=px_x(251, 1607), range=LON_RANGE, overlaying="x3", anchor="y4", visible=False),
    yaxis4=dict(domain=px_y(484.5, 1539), range=LAT_RANGE, overlaying="y3", anchor="x4", visible=False),
    # side panel, its rotated labels are centred under the ticks further down
    xaxis5=dict(frame, domain=px_x(1855, 2286), range=[0, 8000], anchor="y5", side="bottom", tickvals=alt_ticks, ticks="outside",
                ticklen=14, tickwidth=3, showticklabels=False, showgrid=False, tickfont=tick_font),
    yaxis5=dict(frame, domain=px_y(484.5, 1539), range=LAT_RANGE, anchor="x5", tickvals=side_lat_ticks, ticks="outside", ticklen=14,
                tickwidth=3, showgrid=False, tickfont=tick_font),
    xaxis6=dict(domain=px_x(1855, 2286), range=[-5.2, 103], overlaying="x5", anchor="y5", side="top", tickvals=kft_ticks,
                ticks="outside", ticklen=14, tickwidth=3, tickcolor="gray", tickfont=gray_font, showline=False, zeroline=False,
                showgrid=True, gridcolor="#888888", griddash="4px,3px", gridwidth=1, ticklabelstandoff=10),
    shapes=[dict(type="rect", xref="x3 domain", yref="y3 domain", x0=0, x1=1, y0=0, y1=1, fillcolor=LAND, line_width=0,
                 layer="below")],
)


def label(text, x, y, size=33.3, color="black", angle=0, anchor="center", weight=None):
    fig.add_annotation(text=text, x=(x - PAGE) / FW, y=1 - (y - PAGE) / FH, xref="paper", yref="paper", showarrow=False,
                       textangle=angle, xanchor=anchor, yanchor="middle",
                       font=dict(family=FONT, size=size, color=color, weight=weight))


label("Longitudinal curtain residence time", 929, 44)
label("Column-integrated residence time", 929, 449)
label("Nicosia", 2070, 235, size=50, weight="bold")
label("altitude (m ASL)", 45, 234, angle=-90)
label("altitude (kft ASL)", 1789, 238, color="gray", angle=-90)
label("Latitudinal curtain residence time", 2319, 1013, angle=-90)
label("altitude (m ASL)", 2069, 1684)
label("time since arrival at location [h]", 929, 1790)
label("2020-03-03 06:00 UTC", 1576, 1487, size=41.7, anchor="right")
label("FLEXPART-WRF at MIM (LMU Munich)", 263, 504, size=16.7, color="rgba(255,255,255,0.75)", anchor="left")
label("christoph.knote@lmu.de", 263, 522, size=16.7, color="rgba(255,255,255,0.75)", anchor="left")
label("2020-03-05", 263, 540, size=16.7, color="rgba(255,255,255,0.75)", anchor="left")
for v in alt_ticks:
    fig.add_annotation(text=str(v), x=v, xref="x5", y=1 - ((1585 if v == 0 else 1608) - PAGE) / FH, yref="paper",
                       showarrow=False, textangle=45, xanchor="center", yanchor="middle", font=tick_font)

fig.write_html("out.html")
